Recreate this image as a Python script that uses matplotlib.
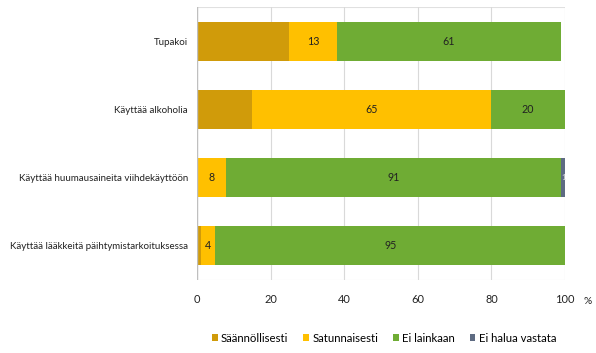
import matplotlib
matplotlib.use("Agg")
import matplotlib.pyplot as plt
import numpy as np

plt.rcParams['font.family'] = ['Lato', 'DejaVu Sans']

categories = ["Tupakoi", "Käyttää alkoholia", "Käyttää huumausaineita viihdekäyttöön",
              "Käyttää lääkkeitä päihtymistarkoituksessa"]
series_names = ["Säännöllisesti", "Satunnaisesti", "Ei lainkaan", "Ei halua vastata"]
saannollisesti = [25, 15, 0, 1]
satunnaisesti = [13, 65, 8, 4]
ei_lainkaan = [61, 20, 91, 95]
ei_halua = [0, 0, 1, 0]
label_series = [False, True, True, True]
xticks = [0, 20, 40, 60, 80, 100]

colors = ["#D09B0A", "#FFC000", "#6FAC34", "#5E6B82"]
FS = 7.3

fig = plt.figure(figsize=(5.96, 3.53), dpi=100)
ax = fig.add_axes([197/596, 1 - 280/353, (565-197)/596, (280-7)/353])

y = np.arange(len(categories))
left = np.zeros(len(categories))
all_series = [saannollisesti, satunnaisesti, ei_lainkaan, ei_halua]
for vals, name, col, lab in zip(all_series, series_names, colors, label_series):
    vals = np.array(vals, dtype=float)
    ax.barh(y, vals, left=left, height=0.57, color=col, label=name, zorder=3)
    if lab:
        for yi, (l, v) in enumerate(zip(left, vals)):
            if v > 0:
                if name == "Ei halua vastata":
                    ax.text(l + v / 2, yi, f"{v:g}", ha="center", va="center",
                            fontsize=5.5, color="#dddddd", zorder=4)
                else:
                    ax.text(l + v / 2, yi, f"{v:g}", ha="center", va="center",
                            fontsize=FS + 0.4, color="#222222", zorder=4)
    left += vals

ax.set_xlim(0, 100)
ax.set_ylim(len(categories) - 0.5, -0.5)
ax.set_yticks(y)
ax.set_yticklabels(categories, fontsize=7.0, color="#222222")
ax.set_xticks(xticks)
ax.set_xticklabels([str(t) for t in xticks], fontsize=FS + 0.6, color="#222222")
ax.tick_params(axis="both", length=0)
ax.tick_params(axis="x", pad=10)
ax.tick_params(axis="y", pad=6.5)
ax.grid(axis="x", color="#d9d9d9", linewidth=0.8, zorder=0)
for s in ["top", "right", "bottom", "left"]:
    ax.spines[s].set_visible(False)
ax.axvline(0, color="#bfbfbf", linewidth=1.0, zorder=5)
ax.axhline(-0.5, color="#e0e0e0", linewidth=0.8, zorder=1)
ax.axhline(len(categories) - 0.5, color="#e0e0e0", linewidth=0.8, zorder=1)

fig.text(588/596, 1 - 302/353, "%", fontsize=FS, ha="center", va="center", color="#222222")

handles, labels = ax.get_legend_handles_labels()
fig.legend(handles, labels, loc="center", bbox_to_anchor=(384/596, 1 - 338/353),
           ncol=4, frameon=False, fontsize=8.2, handlelength=0.5, handleheight=0.5,
           handletextpad=0.3, columnspacing=1.3)

fig.savefig("out.png", dpi=100)
